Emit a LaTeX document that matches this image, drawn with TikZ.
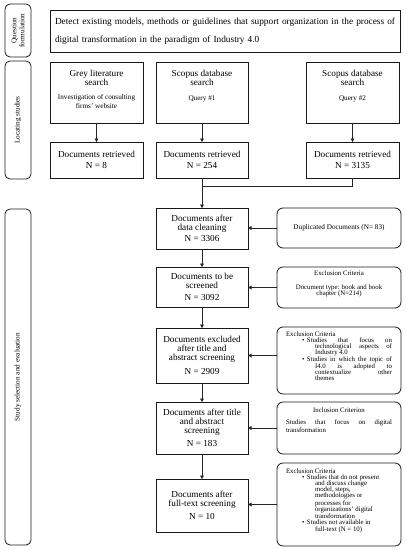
\documentclass[tikz,border=0pt]{standalone}
\usepackage{fontspec}
\setmainfont{Liberation Serif}
\usetikzlibrary{arrows.meta}
\newcommand\rkmain{\fontsize{9.2}{9}\selectfont}
\newcommand\rksmall{\fontsize{7.2}{8.6}\selectfont}
\newcommand\rkcrit{\fontsize{6.8}{6.2}\selectfont}
\newcommand\rkside{\fontsize{7.2}{8}\selectfont}
\newcommand\rkbul{\noindent\llap{\textbullet\hspace{2.5pt}}}
\begin{document}
\begin{tikzpicture}[x=1pt,y=-1pt,
  box/.style={draw=black!90, line width=0.8pt, inner sep=0pt, outer sep=0pt},
  mainbox/.style={box, align=center, font=\rkmain, minimum width=92pt},
  crit/.style={box, rounded corners=6pt, minimum width=124pt},
  side/.style={draw=black!90, line width=0.8pt, rounded corners=5pt, inner sep=0pt, rotate=90, minimum height=26pt, align=center, font=\rkside},
  arr/.style={draw=black!85, line width=0.7pt, -{Triangle[length=3.5pt,width=3.8pt]}},
  ln/.style={draw=black!85, line width=0.7pt}]
\useasboundingbox (0,0) rectangle (406,550);

% side labels
\node[side, minimum width=53pt] (sq) at (18,30.5) {Question\\formulation};
\node[side, minimum width=118pt] (sl) at (18,120) {Locating studies};
\node[side, minimum width=336pt] (ss) at (18,377) {Study selection and evaluation};

% question
\node[box, minimum width=350pt, minimum height=42pt, text width=340pt, align=left, font=\fontsize{9.3}{18}\selectfont] (q) at (225,31)
  {Detect existing models, methods or guidelines that support organization in the process of\\digital transformation in the paradigm of Industry 4.0};

% search boxes
\node[box, minimum width=93pt, minimum height=61pt] (grey) at (96.5,92.5)
  {\parbox[c][61pt][t]{92pt}{\centering\vspace*{8.5pt}\rkmain Grey literature\\search\par\vspace{5.4pt}\rksmall Investigation of consulting\\firms' website\par}};
\node[box, minimum width=92pt, minimum height=61pt] (s1) at (202,92.5)
  {\parbox[c][61pt][t]{92pt}{\centering\vspace*{8.5pt}\rkmain Scopus database\\search\par\vspace{6.4pt}\rksmall Query \#1\par}};
\node[box, minimum width=93pt, minimum height=61pt] (s2) at (352.5,92.5)
  {\parbox[c][61pt][t]{92pt}{\centering\vspace*{8.5pt}\rkmain Scopus database\\search\par\vspace{6.4pt}\rksmall Query \#2\par}};

% retrieved
\node[mainbox, minimum width=93pt, minimum height=36pt] (r0) at (96.5,160) {Documents retrieved\\[2.5pt]N = 8};
\node[mainbox, minimum height=36pt] (r1) at (202,160) {Documents retrieved\\[2.5pt]N = 254};
\node[mainbox, minimum width=93pt, minimum height=36pt] (r2) at (352.5,160) {Documents retrieved\\[2.5pt]N = 3135};

% main column
\node[mainbox, minimum height=41pt] (dc) at (202,228.5) {Documents after\\data cleaning\\[2.5pt]N = 3306};
\node[mainbox, minimum height=40pt] (ts) at (202,287) {Documents to be\\screened\\[2.5pt]N = 3092};
\node[mainbox, minimum height=55pt] (ea) at (202,355.5) {Documents excluded\\after title and\\abstract screening\\[4.5pt]N = 2909};
\node[mainbox, minimum height=52pt] (at) at (202,428) {Documents after title\\and abstract\\screening\\[4pt]N = 183};
\node[mainbox, minimum height=53pt] (ft) at (202,505.5) {Documents after\\full-text screening\\[3.5pt]N = 10};

% criteria
\node[crit, minimum height=40pt, font=\fontsize{7.2}{8}\selectfont] (dup) at (339,228) {Duplicated Documents (N= 83)};
\node[crit, minimum height=41pt] (ex1) at (339,287.5)
  {\parbox[c][41pt][t]{106pt}{\rkcrit\centering\vspace*{3.5pt}Exclusion Criteria\par\vspace{7.9pt}Document type: book and book\\chapter (N=214)\par}};
\node[crit, minimum height=67pt] (ex2) at (339,360.5)
  {\parbox[c][67pt][t]{106pt}{\rkcrit\vspace*{4.4pt}Exclusion Criteria\par
   \leftskip=21pt
   \hangindent=8pt\hangafter=1\rkbul Studies that focus on\linebreak technological aspects of\linebreak Industry 4.0\par
   \hangindent=8pt\hangafter=1\rkbul Studies in which the topic of\linebreak I4.0 is adopted to\linebreak contextualize other\linebreak themes\par}};
\node[crit, minimum height=52pt] (inc) at (339,428)
  {\parbox[c][52pt][t]{106pt}{\rkcrit\vspace*{5.4pt}{\centering Inclusion Criterion\par}\vspace{6.6pt}Studies that focus on digital\linebreak transformation\par}};
\node[crit, minimum height=83pt] (ex3) at (339,504.5)
  {\parbox[c][83pt][t]{106pt}{\rkcrit\raggedright\vspace*{5.4pt}Exclusion Criteria\par
   \leftskip=21pt
   \hangindent=8pt\hangafter=1\rkbul Studies that do not present\newline and discuss change\newline model, steps,\newline methodologies or\newline processes for\newline organizations' digital\newline transformation\par
   \hangindent=8pt\hangafter=1\rkbul Studies not available in\newline full-text (N = 10)\par}};

% connectors
\coordinate (j) at (202,186);
\draw[arr] (grey) -- (r0);
\draw[arr] (s1) -- (r1);
\draw[arr] (s2) -- (r2);
\draw[ln] (r2.south) |- (j);
\draw[arr] (r1) -- (dc);
\draw[arr] (dc) -- (ts);
\draw[arr] (ts) -- (ea);
\draw[arr] (ea) -- (at);
\draw[arr] (at) -- (ft);
\draw[arr] (dup.west) -- (dc.east |- dup.west);
\draw[arr] (ex1.west) -- (ts.east |- ex1.west);
\draw[arr] (ex2.west |- ea.east) -- (ea.east);
\draw[arr] (inc.west) -- (at.east |- inc.west);
\draw[arr] (ex3.west) -- (ft.east |- ex3.west);
\end{tikzpicture}
\end{document}
